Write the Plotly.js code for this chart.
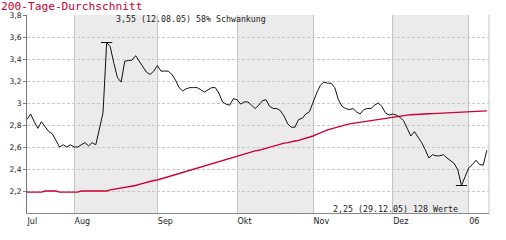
<!DOCTYPE html>
<html>
<head>
<meta charset="utf-8">
<script src="https://cdn.plot.ly/plotly-3.0.1.min.js"></script>
<style>html,body{margin:0;padding:0;background:#fff;}#chart{width:506px;height:240px;}</style>
</head>
<body>
<div id="chart"></div>
<script>
// Trading days 13.07.2005 .. 09.01.2006 (128 values), x = trading-day index
const price = [
  2.85, 2.90, 2.83, 2.77, 2.83, 2.78, 2.74, 2.72, 2.66, 2.60,
  2.62, 2.60, 2.62, 2.60, 2.60, 2.62, 2.64, 2.61, 2.64, 2.62,
  2.77, 2.91, 3.55, 3.51, 3.36, 3.23, 3.19, 3.38, 3.385, 3.39,
  3.43, 3.38, 3.33, 3.28, 3.26, 3.29, 3.34, 3.29, 3.29, 3.29,
  3.26, 3.21, 3.14, 3.11, 3.13, 3.14, 3.14, 3.14, 3.12, 3.10,
  3.12, 3.14, 3.14, 3.09, 3.01, 2.99, 2.98, 3.04, 3.03, 2.99,
  3.01, 3.01, 2.98, 2.95, 2.98, 3.02, 3.03, 2.97, 2.95, 2.95,
  2.93, 2.88, 2.81, 2.78, 2.78, 2.85, 2.86, 2.90, 2.92, 3.01,
  3.09, 3.16, 3.19, 3.18, 3.18, 3.14, 3.03, 2.97, 2.95, 2.94,
  2.95, 2.92, 2.90, 2.94, 2.95, 2.95, 2.98, 3.00, 2.97, 2.91,
  2.89, 2.90, 2.89, 2.87, 2.84, 2.77, 2.70, 2.74, 2.69, 2.64,
  2.575, 2.50, 2.53, 2.52, 2.52, 2.53, 2.50, 2.475, 2.45, 2.39,
  2.25, 2.33, 2.41, 2.44, 2.48, 2.44, 2.435, 2.57
];
const avg200 = [
  2.19, 2.19, 2.19, 2.19, 2.19, 2.20, 2.20, 2.20, 2.20, 2.19,
  2.19, 2.19, 2.19, 2.19, 2.19, 2.20, 2.20, 2.20, 2.20, 2.20,
  2.20, 2.20, 2.20, 2.21, 2.215, 2.22, 2.225, 2.23, 2.24, 2.245,
  2.25, 2.26, 2.27, 2.28, 2.285, 2.295, 2.30, 2.31, 2.32, 2.33,
  2.34, 2.35, 2.36, 2.37, 2.38, 2.39, 2.40, 2.41, 2.42, 2.43,
  2.44, 2.45, 2.46, 2.47, 2.48, 2.49, 2.50, 2.51, 2.52, 2.53,
  2.54, 2.55, 2.56, 2.565, 2.57, 2.58, 2.59, 2.60, 2.61, 2.62,
  2.63, 2.635, 2.64, 2.65, 2.655, 2.66, 2.67, 2.675, 2.685, 2.70,
  2.715, 2.73, 2.745, 2.755, 2.765, 2.775, 2.785, 2.795, 2.80, 2.81,
  2.815, 2.82, 2.825, 2.83, 2.835, 2.84, 2.845, 2.85, 2.86, 2.865,
  2.87, 2.875, 2.88, 2.885, 2.888, 2.89, 2.893, 2.896, 2.897, 2.899,
  2.90, 2.902, 2.903, 2.905, 2.906, 2.907, 2.908, 2.91, 2.912, 2.913,
  2.915, 2.917, 2.918, 2.92, 2.922, 2.924, 2.926, 2.928
];
const monthStarts = [0, 13, 36, 58, 79, 101, 122];
const monthLabels = ['Jul', 'Aug', 'Sep', 'Okt', 'Nov', 'Dez', '06'];
const yTicks = [2.2, 2.4, 2.6, 2.8, 3.0, 3.2, 3.4, 3.6, 3.8];
const titleText = '200-Tage-Durchschnitt';
const maxText = '3,55 (12.08.05) 58% Schwankung';
const minText = '2,25 (29.12.05) 128 Werte';

const idx = price.map((_, i) => i);
const maxV = Math.max(...price), minV = Math.min(...price);
const iMax = price.indexOf(maxV), iMin = price.indexOf(minV);

// shaded alternate months (Aug, Okt, Dez)
const shapes = [];
for (let m = 1; m < monthStarts.length - 1; m += 2) {
  shapes.push({type: 'rect', xref: 'x', yref: 'paper', x0: monthStarts[m], x1: monthStarts[m + 1],
    y0: 0, y1: 1, fillcolor: '#ebebeb', line: {width: 0}, layer: 'below'});
}
shapes.push({type: 'line', xref: 'paper', yref: 'paper', x0: 1, x1: 1, y0: 0, y1: 1,
  line: {color: '#c4c4c4', width: 1}, layer: 'below'});

const mono = 'DejaVu Sans Mono, monospace';
const traces = [
  {x: idx, y: avg200, mode: 'lines', line: {color: '#cc0033', width: 1.4}, hoverinfo: 'skip'},
  {x: idx, y: price, mode: 'lines', line: {color: '#111111', width: 1}, hoverinfo: 'skip'},
  {x: [iMax, iMin], y: [maxV, minV], mode: 'markers', hoverinfo: 'skip',
   marker: {symbol: 'line-ew', size: 8, line: {color: '#111111', width: 1}}}
];

const layout = {
  width: 506, height: 240,
  margin: {l: 27, r: 17, t: 15, b: 27, pad: 0},
  paper_bgcolor: '#ffffff', plot_bgcolor: '#ffffff',
  showlegend: false,
  separators: ',.',
  xaxis: {range: [0, 127.6], tickvals: monthStarts, ticktext: monthLabels,
    showgrid: true, gridcolor: '#c4c4c4', gridwidth: 1,
    showline: true, linecolor: '#888888', linewidth: 1,
    ticks: '', ticklabelposition: 'outside right',
    tickfont: {family: 'DejaVu Sans, sans-serif', size: 8, color: '#222'},
    zeroline: false, fixedrange: true},
  yaxis: {range: [2.0, 3.8], tickvals: yTicks,
    showgrid: true, gridcolor: '#c8c8c8', gridwidth: 1, griddash: '3px,2px',
    showline: true, linecolor: '#777777', linewidth: 1,
    ticks: 'outside', ticklen: 3, tickcolor: '#777777',
    tickfont: {family: 'DejaVu Sans, sans-serif', size: 7.6, color: '#222'},
    zeroline: false, fixedrange: true},
  shapes: shapes,
  annotations: [
    {text: titleText, xref: 'paper', yref: 'paper', x: -27 / 462, y: (213 - 6.5) / 198,
     xanchor: 'left', yanchor: 'middle', showarrow: false, borderpad: 0,
     font: {family: mono, size: 11.2, color: '#cc0033'}},
    {text: maxText, xref: 'paper', yref: 'paper', x: (114 - 27) / 462, y: 0.982,
     xanchor: 'left', yanchor: 'middle', showarrow: false,
     font: {family: mono, size: 8.3, color: '#222'}},
    {text: minText, xref: 'paper', yref: 'paper', x: (331 - 27) / 462, y: 0.019,
     xanchor: 'left', yanchor: 'middle', showarrow: false,
     font: {family: mono, size: 8.3, color: '#222'}}
  ]
};

Plotly.newPlot('chart', traces, layout, {displayModeBar: false, staticPlot: true});
</script>
</body>
</html>
